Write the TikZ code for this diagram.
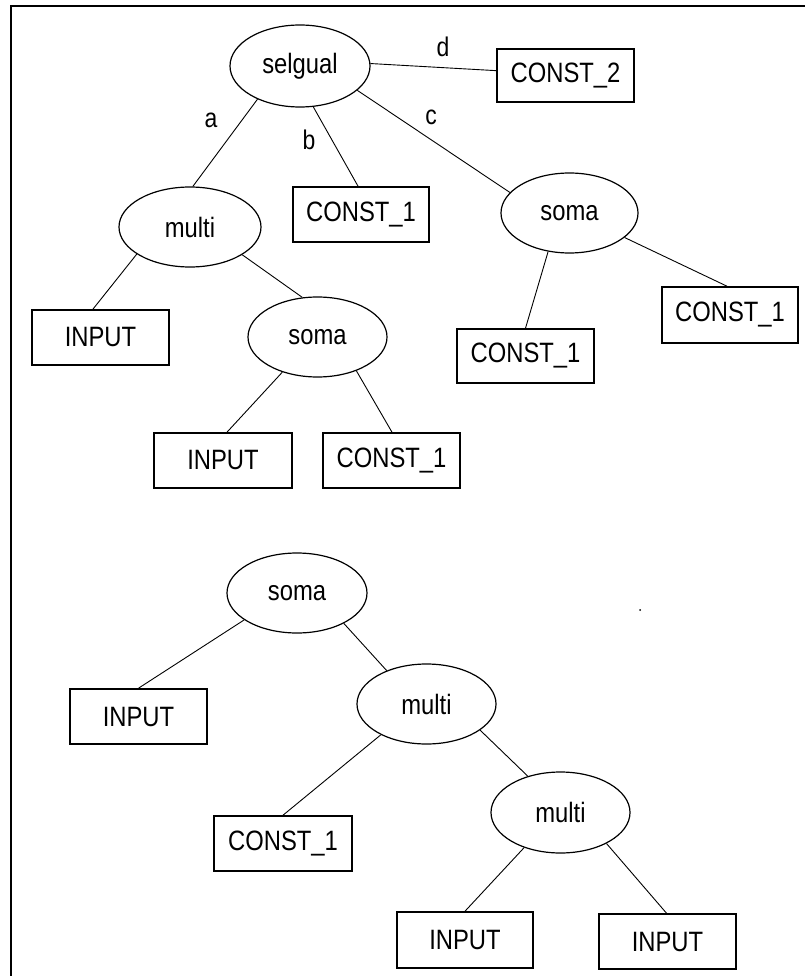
\documentclass[tikz,border=0pt]{standalone}
\usepackage{fontspec}
\setmainfont{Liberation Sans}[FakeStretch=0.85]
\usetikzlibrary{shapes.geometric}

\begin{document}
\begin{tikzpicture}[x=1pt,y=-1pt,
  every node/.style={font=\fontsize{28}{32}\selectfont, inner sep=0pt},
  opnode/.style={ellipse, draw, line width=1.2pt, minimum width=139pt, minimum height=81pt},
  leafbox/.style={rectangle, draw, line width=1.6pt, minimum width=137pt, minimum height=55pt},
  edge/.style={line width=0.9pt},
  edgelabel/.style={font=\fontsize{27}{30}\selectfont}]

\useasboundingbox (0,0) rectangle (805,976);

% frame lines (left and top)
\draw[line width=2.2pt] (11,976) -- (11,6) -- (805,6);

% ---- first tree ----
\node[opnode, minimum width=140pt, minimum height=82pt] (selgual) at (300,66) {selgual};
\node[leafbox, minimum height=53pt] (const2) at (565.5,75.5) {CONST\_2};
\node[opnode, minimum width=142pt, minimum height=80pt] (multiA) at (190,227) {multi};
\node[leafbox, minimum width=136pt] (constB) at (361,214.5) {CONST\_1};
\node[opnode, minimum width=137pt, minimum height=80pt] (somaR) at (569.5,213) {soma};
\node[leafbox] (inputA) at (100.5,337.5) {INPUT};
\node[opnode, minimum height=80pt] (somaM) at (317.5,337) {soma};
\node[leafbox, minimum width=136pt, minimum height=56pt] (constR) at (730,315) {CONST\_1};
\node[leafbox, minimum height=54pt] (constMR) at (525.5,356) {CONST\_1};
\node[leafbox, minimum width=138pt] (inputB) at (223,460.5) {INPUT};
\node[leafbox] (constM) at (391.5,460.5) {CONST\_1};

\node[edgelabel] (la) at (211,120) {a};
\node[edgelabel] (lb) at (309,140) {b};
\node[edgelabel] (lc) at (431,117) {c};
\node[edgelabel] (ld) at (443,47) {d};

\draw[edge] (selgual.-142) -- (multiA.86);
\draw[edge] (selgual.-72) -- (constB.96);
\draw[edge] (selgual.-23) -- (somaR.161);
\draw[edge] (selgual.2) -- (const2.176);
\draw[edge] (multiA.207) -- (inputA.105);
\draw[edge] (multiA.-28) -- (somaM.111);
\draw[edge] (somaM.-135) -- (inputB.82);
\draw[edge] (somaM.-41) -- (constM.89);
\draw[edge] (somaR.-119) -- (constMR.90);
\draw[edge] (somaR.-24) -- (constR.96);

% ---- second tree ----
\node[opnode, minimum width=140pt, minimum height=80pt] (somaL) at (297,593) {soma};
\node[leafbox] (inputC) at (138.5,716.5) {INPUT};
\node[opnode, minimum height=80pt] (multiB) at (426.5,704) {multi};
\node[leafbox, minimum width=138pt] (constL) at (283,843.5) {CONST\_1};
\node[opnode] (multiC) at (560.5,812.5) {multi};
\node[leafbox, minimum width=136pt, minimum height=56pt] (inputD) at (465,940) {INPUT};
\node[leafbox] (inputE) at (667.5,941.5) {INPUT};

\draw[edge] (somaL.207) -- (inputC.north);
\draw[edge] (somaL.-33) -- (multiB.140);
\draw[edge] (multiB.214) -- (constL.north);
\draw[edge] (multiB.-26) -- (multiC.132);
\draw[edge] (multiC.224) -- (inputD.north);
\draw[edge] (multiC.-34) -- (inputE.92);

% stray speck
\fill (640,610) circle (1pt);
\end{tikzpicture}
\end{document}
